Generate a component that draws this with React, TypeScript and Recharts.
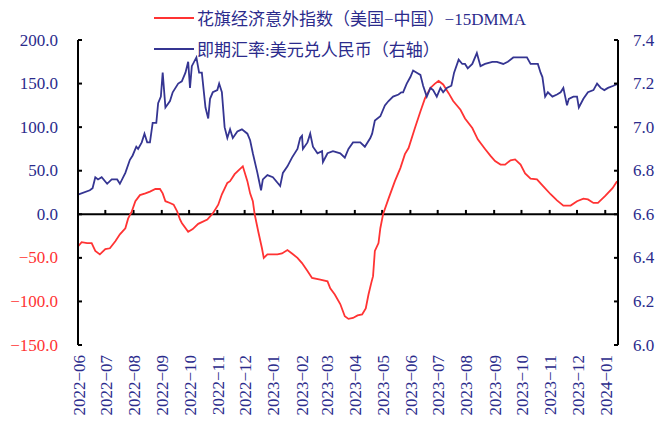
import { LineChart, Line, XAxis, YAxis, ReferenceLine } from 'recharts';

// x positions are days since 2022-06-01
const monthTicks = [0, 30, 61, 92, 122, 153, 183, 214, 245, 273, 304, 334, 365, 395, 426, 457, 487, 518, 548, 579];
const monthLabels = [
    '2022−06', '2022−07', '2022−08', '2022−09', '2022−10', '2022−11', '2022−12',
    '2023−01', '2023−02', '2023−03', '2023−04', '2023−05', '2023−06', '2023−07',
    '2023−08', '2023−09', '2023−10', '2023−11', '2023−12', '2024−01',
];
const leftTicks = [-150, -100, -50, 0, 50, 100, 150, 200];
const rightTicks = [6.0, 6.2, 6.4, 6.6, 6.8, 7.0, 7.2, 7.4];

const citiDays = [
    0, 4, 10, 15, 19, 24, 30, 35, 41, 46, 52, 55, 59, 63, 68, 74, 79, 85, 90, 93, 96, 101, 105, 109,
    112, 114, 121, 126, 132, 142, 148, 154, 158, 164, 167, 172, 178, 181, 186, 189, 192, 194, 198,
    202, 204, 208, 219, 224, 230, 235, 241, 246, 252, 257, 266, 274, 277, 282, 288, 293, 297, 302,
    307, 312, 316, 319, 322, 324, 326, 330, 332, 335, 341, 348, 354, 359, 363, 370, 376, 381, 387,
    392, 396, 401, 407, 412, 420, 425, 433, 439, 447, 453, 458, 464, 469, 475, 480, 486, 491, 497,
    504, 511, 519, 526, 533, 541, 548, 555, 560, 566, 571, 579, 587, 592,
];
const citiValues = [
    -37, -32, -33, -33, -42, -46, -40, -39, -31, -23, -16, -5, 3, 15, 22, 24, 26, 29, 29, 24, 15, 13,
    11, 3, -6, -10, -20, -17, -11, -6, 1, 11, 23, 36, 38, 46, 52, 55, 38, 24, 15, 0, -20, -39, -50,
    -46, -46, -45, -41, -45, -50, -56, -65, -73, -75, -77, -85, -92, -103, -117, -120, -119, -116,
    -115, -108, -92, -79, -71, -42, -33, -16, 0, 18, 38, 53, 69, 76, 99, 118, 133, 145, 150, 153, 149,
    139, 130, 120, 110, 99, 86, 75, 67, 61, 57, 57, 62, 63, 57, 47, 41, 40, 32, 23, 16, 10, 10, 15,
    18, 17, 13, 13, 21, 30, 38,
];

const fxDays = [
    0, 13, 16, 19, 22, 26, 32, 37, 43, 46, 52, 57, 60, 64, 66, 70, 73, 76, 79, 82, 86, 88, 91, 93,
    96, 101, 104, 110, 114, 118, 121, 123, 125, 130, 133, 136, 140, 143, 145, 148, 153, 155, 158,
    161, 164, 167, 170, 175, 180, 186, 189, 192, 197, 198, 201, 203, 208, 214, 220, 222, 225, 230,
    235, 241, 244, 246, 247, 252, 255, 258, 263, 268, 269, 274, 280, 288, 293, 297, 302, 310, 315,
    321, 323, 326, 332, 337, 341, 346, 352, 355, 357, 361, 365, 368, 372, 376, 379, 383, 387, 390,
    394, 398, 401, 405, 410, 413, 418, 422, 425, 428, 433, 438, 442, 447, 455, 460, 467, 472, 478,
    486, 493, 497, 500, 505, 508, 510, 511, 513, 516, 521, 526, 530, 533, 537, 539, 544, 548, 550,
    555, 560, 566, 570, 574, 578, 582, 588, 593,
];
const fxValues = [
    6.69, 6.71, 6.72, 6.77, 6.76, 6.77, 6.74, 6.76, 6.76, 6.74, 6.79, 6.85, 6.87, 6.91, 6.90, 6.93,
    6.97, 6.93, 6.93, 7.02, 7.02, 7.11, 7.14, 7.25, 7.09, 7.12, 7.16, 7.20, 7.21, 7.25, 7.30, 7.18,
    7.28, 7.32, 7.25, 7.25, 7.09, 7.04, 7.13, 7.16, 7.17, 7.20, 7.16, 7.00, 6.95, 6.99, 6.95, 6.98,
    6.99, 6.97, 6.94, 6.88, 6.79, 6.77, 6.71, 6.76, 6.78, 6.77, 6.74, 6.73, 6.79, 6.82, 6.86, 6.90,
    6.95, 6.96, 6.90, 6.93, 6.97, 6.91, 6.88, 6.89, 6.84, 6.88, 6.89, 6.88, 6.86, 6.90, 6.93, 6.93,
    6.91, 6.95, 6.97, 7.03, 7.05, 7.10, 7.12, 7.14, 7.15, 7.16, 7.16, 7.20, 7.23, 7.26, 7.25, 7.24,
    7.19, 7.14, 7.18, 7.17, 7.14, 7.18, 7.16, 7.18, 7.19, 7.25, 7.31, 7.29, 7.29, 7.27, 7.29, 7.34,
    7.28, 7.29, 7.30, 7.30, 7.29, 7.30, 7.32, 7.32, 7.32, 7.29, 7.29, 7.29, 7.25, 7.23, 7.20, 7.14,
    7.16, 7.14, 7.15, 7.16, 7.18, 7.10, 7.13, 7.14, 7.14, 7.09, 7.13, 7.16, 7.17, 7.20, 7.18, 7.17,
    7.18, 7.19, 7.20,
];

const citiData = citiDays.map((d, i) => ({ day: d, citi: citiValues[i] }));
const fxData = fxDays.map((d, i) => ({ day: d, fx: fxValues[i] }));

const RED = '#ff3333';
const BLUE = '#353592';
const TEXT_BLUE = '#2b2b8c';
const SERIF = '"Liberation Serif", "Times New Roman", serif';
const MIXED = '"Liberation Serif", "Noto Sans CJK SC", serif';

const LeftTick = ({ x, y, payload }: any) => (
    <text x={x} y={y} textAnchor="end" dominantBaseline="central"
        fontFamily={SERIF} fontSize={17} style={{ fontFamily: SERIF, fontSize: 17 }}
        fill={payload.value < 0 ? RED : TEXT_BLUE}>
        {payload.value < 0 ? `−${Math.abs(payload.value).toFixed(1)}` : payload.value.toFixed(1)}
    </text>
);

const RightTick = ({ x, y, payload }: any) => (
    <text x={x} y={y} textAnchor="start" dominantBaseline="central"
        fontFamily={SERIF} fontSize={17} style={{ fontFamily: SERIF, fontSize: 17 }} fill={TEXT_BLUE}>
        {payload.value.toFixed(1)}
    </text>
);

const MonthTick = ({ x, y, payload, index }: any) => (
    <text x={x + 1} y={y} transform={`rotate(-90, ${x + 1}, ${y})`} textAnchor="end" dominantBaseline="central"
        fontFamily={SERIF} fontSize={17} style={{ fontFamily: SERIF, fontSize: 17 }} fill={TEXT_BLUE}>
        {monthLabels[index] ?? payload.value}
    </text>
);

const legendItems = [
    { label: '花旗经济意外指数（美国−中国）−15DMMA', color: RED },
    { label: '即期汇率:美元兑人民币（右轴）', color: BLUE },
];

export default function App() {
    return (
        <div style={{ position: 'absolute', left: 0, top: 0, width: 657, height: 424, background: '#fff' }}>
            <LineChart width={657} height={424} margin={{ top: 40, right: 0, bottom: 0, left: 0 }}>
                <XAxis
                    dataKey="day"
                    type="number"
                    domain={[0, 593]}
                    ticks={monthTicks}
                    interval={0}
                    allowDuplicatedCategory={false}
                    axisLine={false}
                    tickLine={false}
                    tickSize={0}
                    tickMargin={10}
                    height={79}
                    tick={<MonthTick />}
                />
                <YAxis
                    yAxisId="left"
                    orientation="left"
                    domain={[-150, 200]}
                    ticks={leftTicks}
                    interval={0}
                    width={78}
                    axisLine={{ stroke: '#000', strokeWidth: 2 }}
                    tickLine={{ stroke: '#000', strokeWidth: 2 }}
                    tickSize={-4}
                    tickMargin={24}
                    tick={<LeftTick />}
                />
                <YAxis
                    yAxisId="right"
                    orientation="right"
                    domain={[6.0, 7.4]}
                    ticks={rightTicks}
                    interval={0}
                    width={39}
                    axisLine={{ stroke: '#000', strokeWidth: 2 }}
                    tickLine={{ stroke: '#000', strokeWidth: 2 }}
                    tickSize={-4}
                    tickMargin={19}
                    tick={<RightTick />}
                />
                <ReferenceLine yAxisId="left" y={0} stroke="#000" strokeWidth={2} />
                {monthTicks.slice(1).map((m) => (
                    <ReferenceLine
                        key={m}
                        yAxisId="left"
                        segment={[{ x: m, y: 0 }, { x: m, y: 5 }]}
                        stroke="#000"
                        strokeWidth={2}
                    />
                ))}
                <Line
                    yAxisId="left"
                    data={citiData}
                    dataKey="citi"
                    stroke={RED}
                    strokeWidth={1.8}
                    dot={false}
                    isAnimationActive={false}
                />
                <Line
                    yAxisId="right"
                    data={fxData}
                    dataKey="fx"
                    stroke={BLUE}
                    strokeWidth={1.8}
                    dot={false}
                    isAnimationActive={false}
                />
            </LineChart>
            <div style={{ position: 'absolute', left: 154, top: 2, fontFamily: MIXED, fontSize: 17, color: TEXT_BLUE }}>
                {legendItems.map((item) => (
                    <div key={item.label} style={{ display: 'flex', alignItems: 'center', height: 31 }}>
                        <span style={{ display: 'inline-block', width: 40, height: 2, background: item.color, marginRight: 3 }} />
                        <span style={{ whiteSpace: 'nowrap' }}>{item.label}</span>
                    </div>
                ))}
            </div>
        </div>
    );
}
